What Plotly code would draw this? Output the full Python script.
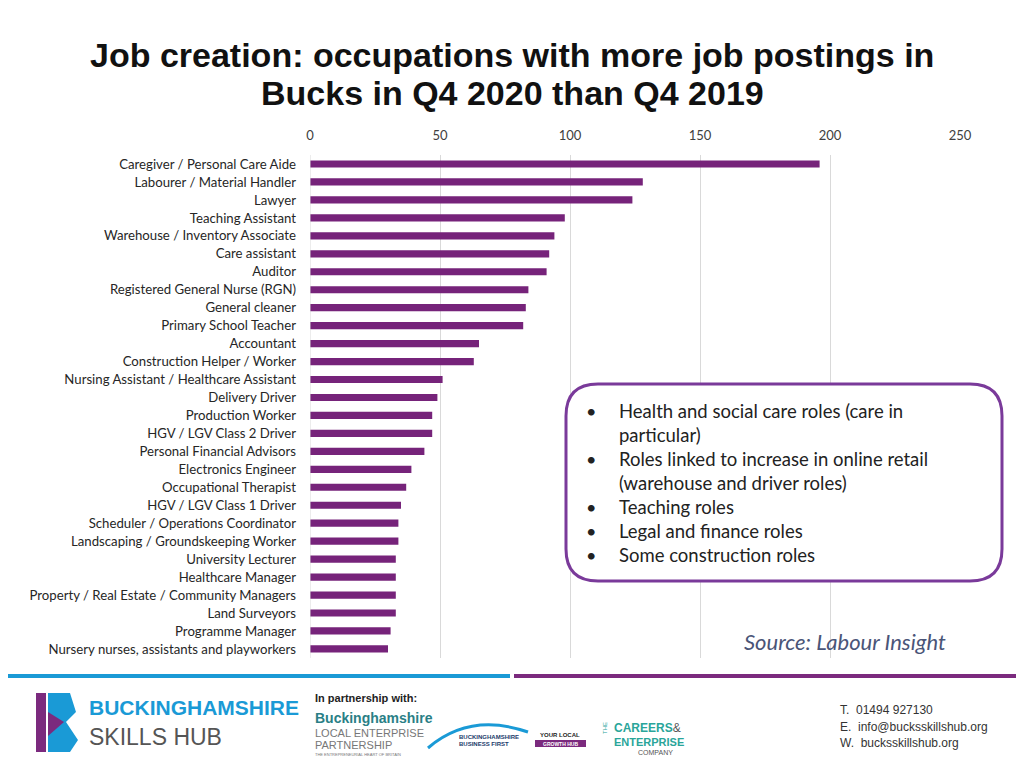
import plotly.graph_objects as go

categories = [
    "Caregiver / Personal Care Aide",
    "Labourer / Material Handler",
    "Lawyer",
    "Teaching Assistant",
    "Warehouse / Inventory Associate",
    "Care assistant",
    "Auditor",
    "Registered General Nurse (RGN)",
    "General cleaner",
    "Primary School Teacher",
    "Accountant",
    "Construction Helper / Worker",
    "Nursing Assistant / Healthcare Assistant",
    "Delivery Driver",
    "Production Worker",
    "HGV / LGV Class 2 Driver",
    "Personal Financial Advisors",
    "Electronics Engineer",
    "Occupational Therapist",
    "HGV / LGV Class 1 Driver",
    "Scheduler / Operations Coordinator",
    "Landscaping / Groundskeeping Worker",
    "University Lecturer",
    "Healthcare Manager",
    "Property / Real Estate / Community Managers",
    "Land Surveyors",
    "Programme Manager",
    "Nursery nurses, assistants and playworkers",
]
values = [196, 128, 124, 98, 94, 92, 91, 84, 83, 82, 65, 63, 51, 49, 47, 47,
          44, 39, 37, 35, 34, 34, 33, 33, 33, 33, 31, 30]
x_ticks = [0, 50, 100, 150, 200, 250]

title_lines = [
    "Job creation: occupations with more job postings in",
    "Bucks in Q4 2020 than Q4 2019",
]

bullets = [
    "Health and social care roles (care in",
    "particular)",
    "Roles linked to increase in online retail",
    "(warehouse and driver roles)",
    "Teaching roles",
    "Legal and finance roles",
    "Some construction roles",
]
bullet_marks = [True, False, True, False, True, True, True]

# page body has an 8px margin; figure is placed at (8, 8)
OFF = 8
W, H = 1024 - 2 * OFF, 768 - 2 * OFF
def px(x):
    return (x - OFF) / W
def py(y):
    return 1 - (y - OFF) / H

PURPLE = "#76237a"
BLUE = "#1a9ad6"

n = len(categories)
fig = go.Figure()
fig.add_trace(go.Bar(
    x=values, y=categories, orientation="h",
    marker=dict(color=PURPLE, line=dict(width=0)),
    width=0.4, hoverinfo="x+y",
))

step = 17.96
top_px = 164 - step / 2
bottom_px = top_px + step * n
fig.update_layout(
    width=W, height=H,
    margin=dict(l=0, r=0, t=0, b=0, autoexpand=False),
    paper_bgcolor="white", plot_bgcolor="white",
    showlegend=False,
    xaxis=dict(
        domain=[px(310), px(960)], range=[0, 250], side="top",
        tickvals=x_ticks, ticktext=[str(v) for v in x_ticks],
        showgrid=True, gridcolor="#d9d9d9", gridwidth=1,
        zeroline=False, showline=False,
        ticks="outside", ticklen=9, tickcolor="rgba(0,0,0,0)",
        ticklabelstandoff=0, automargin=False,
        tickfont=dict(family="Lato, sans-serif", size=13, color="#404040"),
        anchor="y", fixedrange=True,
    ),
    yaxis=dict(
        domain=[py(bottom_px), py(top_px)],
        categoryorder="array", categoryarray=categories[::-1],
        range=[-0.5, n - 0.5], automargin=False,
        showgrid=False, zeroline=False, showline=False, ticks="",
        ticklabelstandoff=13,
        tickfont=dict(family="Lato, sans-serif", size=13.2, color="#262626"),
        fixedrange=True,
    ),
)

fig.add_shape(type="line", xref="x", yref="paper", x0=0, x1=0,
              y0=py(bottom_px), y1=py(top_px), line=dict(color="#d9d9d9", width=1))

# Title
for i, line in enumerate(title_lines):
    fig.add_annotation(
        x=px(512), y=py(55 + 38 * i), xref="paper", yref="paper",
        text=f"<b>{line}</b>",
        showarrow=False, xanchor="center", yanchor="middle", align="center",
        font=dict(family="Liberation Sans, Arial, sans-serif", size=34, color="#111111"),
    )

# Rounded text box
x0, x1, y0, y1, r = 566, 1002, 384, 581, 32
def P(x, y):
    return f"{px(x):.5f},{py(y):.5f}"
path = (f"M {P(x0 + r, y0)} L {P(x1 - r, y0)} Q {P(x1, y0)} {P(x1, y0 + r)} "
        f"L {P(x1, y1 - r)} Q {P(x1, y1)} {P(x1 - r, y1)} "
        f"L {P(x0 + r, y1)} Q {P(x0, y1)} {P(x0, y1 - r)} "
        f"L {P(x0, y0 + r)} Q {P(x0, y0)} {P(x0 + r, y0)} Z")
fig.add_shape(type="path", path=path, xref="paper", yref="paper",
              fillcolor="white", line=dict(color="#7a3a9a", width=3))

for i, (t, b) in enumerate(zip(bullets, bullet_marks)):
    yy = 411 + 24 * i
    if b:
        fig.add_annotation(x=px(591), y=py(yy), xref="paper", yref="paper",
                           text="•", showarrow=False, xanchor="center", yanchor="middle",
                           font=dict(family="Lato, sans-serif", size=18, color="#222222"))
    fig.add_annotation(x=px(617), y=py(yy), xref="paper", yref="paper",
                       text=t, showarrow=False, xanchor="left", yanchor="middle",
                       font=dict(family="Lato, sans-serif", size=18.5, color="#222222"))

# Source
fig.add_annotation(x=px(948), y=py(641), xref="paper", yref="paper",
                   text="<i>Source: Labour Insight</i>", showarrow=False,
                   xanchor="right", yanchor="middle",
                   font=dict(family="Lato, sans-serif", size=22, color="#4a5578"))

# Footer lines
fig.add_shape(type="line", xref="paper", yref="paper", x0=0, x1=px(510),
              y0=py(676), y1=py(676), line=dict(color=BLUE, width=4))
fig.add_shape(type="line", xref="paper", yref="paper", x0=px(514), x1=1,
              y0=py(676), y1=py(676), line=dict(color="#7b2a7e", width=4))

# Logo icon approximation
fig.add_shape(type="rect", xref="paper", yref="paper", x0=px(36), x1=px(46),
              y0=py(752), y1=py(693), fillcolor="#7b2a7e", line=dict(width=0))
fig.add_shape(type="path", xref="paper", yref="paper",
              path=f"M {P(48,693)} L {P(70,693)} L {P(76,712)} L {P(66,722)} L {P(78,740)} L {P(70,752)} L {P(48,752)} Z",
              fillcolor=BLUE, line=dict(width=0))
fig.add_shape(type="path", xref="paper", yref="paper",
              path=f"M {P(48,712)} L {P(64,722)} L {P(48,736)} Z",
              fillcolor="#7b2a7e", line=dict(width=0))

def txt(x, y, t, size, color, family="Lato, sans-serif", anchor="left", angle=0):
    fig.add_annotation(x=px(x), y=py(y), xref="paper", yref="paper", text=t,
                       showarrow=False, xanchor=anchor, yanchor="middle", textangle=angle,
                       font=dict(family=family, size=size, color=color))

SANS = "Liberation Sans, Arial, sans-serif"
txt(87, 707, "<b>BUCKINGHAMSHIRE</b>", 21, BLUE, SANS)
txt(87, 737, "SKILLS HUB", 23, "#555555", SANS)
txt(313, 698, "<b>In partnership with:</b>", 11, "#222222", SANS)
txt(313, 718, "<b>Buckinghamshire</b>", 14, "#2a7f86", SANS)
txt(313, 733, "LOCAL ENTERPRISE", 11, "#777777", SANS)
txt(313, 745, "PARTNERSHIP", 11, "#777777", SANS)
txt(313, 754, "THE ENTREPRENEURIAL HEART OF BRITAIN", 4, "#777777", SANS)
fig.add_shape(type="path", xref="paper", yref="paper",
              path=f"M {P(428,748)} Q {P(470,712)} {P(528,732)}",
              line=dict(color=BLUE, width=3))
txt(457, 737, "<b>BUCKINGHAMSHIRE</b>", 6, "#1a3a6a", SANS)
txt(457, 744, "<b>BUSINESS FIRST</b>", 6, "#1a3a6a", SANS)
txt(560, 735, "<b>YOUR LOCAL</b>", 6, "#222222", SANS, "center")
fig.add_shape(type="rect", xref="paper", yref="paper", x0=px(535), x1=px(586),
              y0=py(747), y1=py(740), fillcolor="#7b2a7e", line=dict(width=0))
txt(560, 743.5, "<b>GROWTH HUB</b>", 5, "white", SANS, "center")
txt(605, 728, "THE", 6, "#2aa59a", SANS, "center", -90)
txt(612, 728, "<b>CAREERS</b><span style='color:#555555'>&</span>", 12, "#2aa59a", SANS)
txt(612, 742, "<b>ENTERPRISE</b>", 11, "#2aa59a", SANS)
txt(675, 752, "COMPANY", 7, "#555555", SANS, "right")
txt(838, 710, "T.  01494 927130", 12, "#333333", SANS)
txt(838, 727, "E.  info@bucksskillshub.org", 12, "#333333", SANS)
txt(838, 743, "W.  bucksskillshub.org", 12, "#333333", SANS)

fig.write_html("out.html")
